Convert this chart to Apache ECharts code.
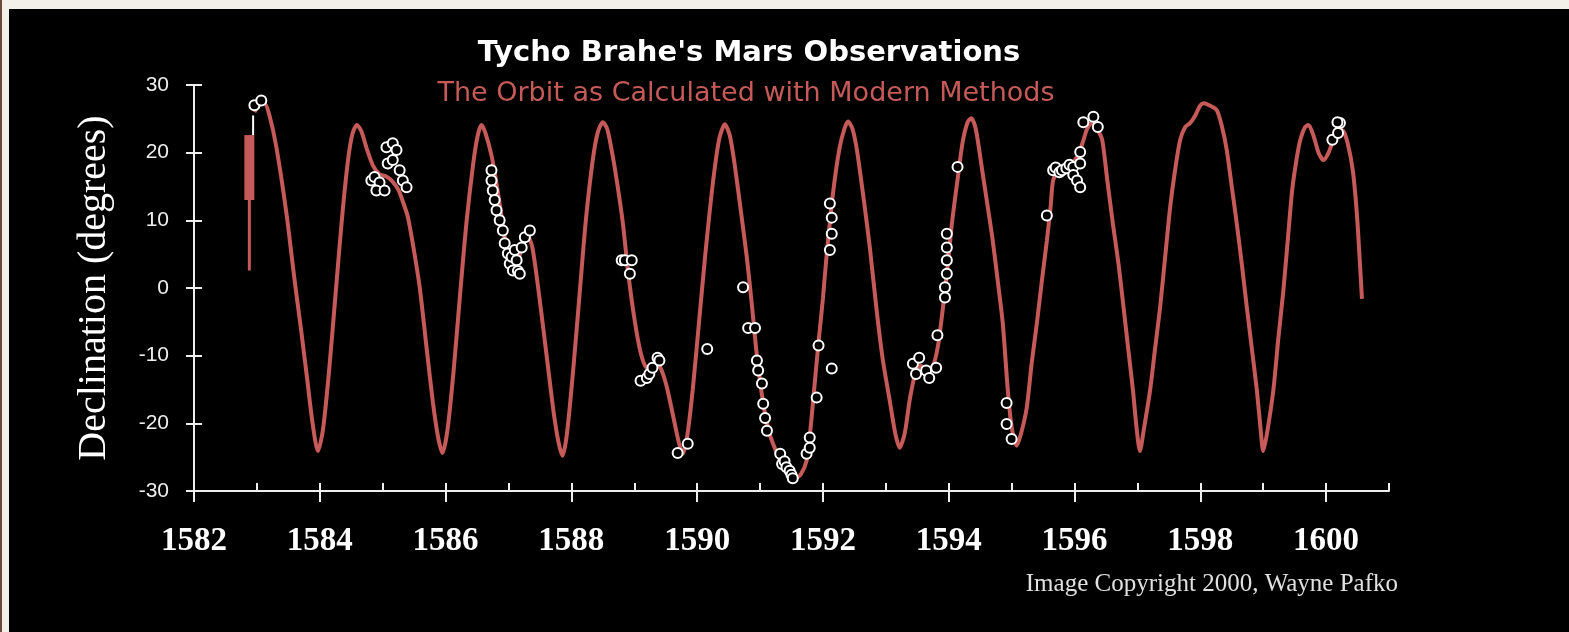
<!DOCTYPE html>
<html>
<head>
<meta charset="utf-8">
<title>Tycho Brahe's Mars Observations</title>
<style>
  html, body { margin: 0; padding: 0; background: #000; }
  #main { width: 1569px; height: 632px; }
</style>
</head>
<body>
<div id="main"></div>
<script src="https://cdn.jsdelivr.net/npm/echarts/dist/echarts.min.js"></script>
<script>
// tick labels
var yearTicks = [1582, 1584, 1586, 1588, 1590, 1592, 1594, 1596, 1598, 1600];
var declTicks = [-30, -20, -10, 0, 10, 20, 30];

// modern orbit: [year, declination in degrees]
var orbit = [
  [1582.96, 26.0], [1583.05, 27.2], [1583.12, 27.3], [1583.2, 25.5], [1583.31, 20.8],
  [1583.47, 11.0], [1583.6, 1.1], [1583.7, -6], [1583.8, -13.5], [1583.88, -19.6], [1583.97, -24.1],
  [1584.05, -21], [1584.15, -12], [1584.25, -1], [1584.35, 10], [1584.45, 19], [1584.52, 22.8],
  [1584.59, 24.1], [1584.66, 23.2], [1584.75, 20.5], [1584.85, 18], [1584.95, 16.8], [1585.05, 16.5],
  [1585.15, 15.8], [1585.25, 14.5], [1585.32, 12.8], [1585.4, 10.5], [1585.48, 6.5], [1585.59, 0],
  [1585.7, -9], [1585.8, -17], [1585.88, -22], [1585.95, -24.4],
  [1586.03, -21], [1586.13, -12], [1586.23, -1], [1586.33, 9.5], [1586.44, 18.4], [1586.51, 22.5],
  [1586.57, 24.1], [1586.63, 23], [1586.73, 19.6], [1586.8, 16], [1586.9, 10], [1587.0, 4.5],
  [1587.1, 3], [1587.2, 5.5], [1587.3, 7.8], [1587.38, 6], [1587.5, -2], [1587.62, -11],
  [1587.72, -18.5], [1587.8, -23], [1587.86, -24.8],
  [1587.93, -21.5], [1588.03, -12], [1588.13, -1], [1588.23, 10], [1588.34, 18.9], [1588.42, 23],
  [1588.5, 24.5], [1588.57, 23.5], [1588.64, 20.4], [1588.72, 16], [1588.82, 9.5], [1588.9, 2.5],
  [1589.0, -4.4], [1589.1, -9.5], [1589.2, -11.8], [1589.3, -11.2], [1589.4, -11.5], [1589.5, -14],
  [1589.6, -18.1], [1589.7, -22.5], [1589.77, -24.5],
  [1589.84, -22], [1589.93, -15], [1590.03, -5], [1590.13, 5], [1590.25, 15.5], [1590.35, 22],
  [1590.44, 24.2], [1590.52, 22.5], [1590.6, 18], [1590.7, 11], [1590.79, 4.5], [1590.87, -2.5],
  [1590.95, -10], [1591.05, -17], [1591.15, -21.5], [1591.25, -24], [1591.35, -26], [1591.45, -27.5],
  [1591.55, -28.2], [1591.65, -27.5], [1591.74, -25.5], [1591.8, -21], [1591.86, -15], [1591.93, -8],
  [1592.0, -1.5], [1592.06, 5], [1592.16, 14], [1592.26, 20.5], [1592.34, 23.5], [1592.4, 24.6],
  [1592.47, 23.5], [1592.54, 20.4], [1592.65, 13], [1592.75, 5.6], [1592.85, -3], [1592.95, -10.5],
  [1593.07, -17.1], [1593.15, -21.5], [1593.22, -23.6],
  [1593.3, -21.5], [1593.38, -16.5], [1593.46, -13], [1593.55, -11.5], [1593.65, -12], [1593.75, -11.5],
  [1593.83, -8.5], [1593.9, -3.5], [1593.98, 3], [1594.05, 9.5], [1594.14, 16], [1594.22, 21.5],
  [1594.3, 24.5], [1594.36, 25.1], [1594.43, 23.5], [1594.54, 16.9], [1594.62, 12], [1594.7, 7],
  [1594.78, 1], [1594.86, -5.3], [1594.94, -15.2], [1595.0, -20.5], [1595.08, -23.3],
  [1595.15, -21.5], [1595.24, -17.7], [1595.32, -11], [1595.4, -5.3], [1595.48, 1], [1595.56, 7],
  [1595.62, 12], [1595.66, 15.9], [1595.75, 17.3], [1595.85, 17.8], [1595.95, 18.3], [1596.05, 19.5],
  [1596.13, 21.5], [1596.2, 23.5], [1596.28, 24.5], [1596.36, 23.5], [1596.44, 21.9], [1596.52, 16],
  [1596.61, 9.5], [1596.7, 3.5], [1596.78, -2.9], [1596.86, -9.5], [1596.93, -15.2], [1596.99, -21],
  [1597.04, -24.1],
  [1597.1, -21], [1597.2, -15.2], [1597.28, -9], [1597.36, -2.9], [1597.44, 4.5], [1597.52, 11.9],
  [1597.6, 17.5], [1597.68, 21.9], [1597.76, 23.8], [1597.84, 24.4], [1597.92, 25.5], [1598.0, 27],
  [1598.06, 27.3], [1598.14, 27], [1598.26, 26.3], [1598.34, 24], [1598.42, 20.4], [1598.5, 15],
  [1598.58, 9.5], [1598.66, 3.5], [1598.74, -2.9], [1598.82, -9], [1598.9, -15.2], [1598.96, -21],
  [1599.0, -24.1],
  [1599.06, -21.5], [1599.16, -15.2], [1599.24, -7.5], [1599.32, -0.4], [1599.39, 7], [1599.46, 14.4],
  [1599.53, 19], [1599.59, 21.9], [1599.66, 23.7], [1599.72, 24.1], [1599.8, 22.5], [1599.88, 20],
  [1599.96, 18.9], [1600.04, 20], [1600.12, 22], [1600.2, 23.2], [1600.26, 23.3], [1600.34, 21.5],
  [1600.43, 17], [1600.5, 9.5], [1600.57, -1.6]
];

// odd marks at the start of the orbit trace
var startStem = [[1582.88, 2.6], [1582.88, 13]];
var startBar = [[1582.88, 13], [1582.88, 22.6]];
var startWhite = [[1582.94, 22.6], [1582.94, 25.5]];

// Tycho's observations: [year, declination in degrees]
var tycho = [
  [1582.96, 27.0], [1583.07, 27.7],
  [1584.82, 15.9], [1584.87, 16.4], [1584.95, 15.6], [1584.9, 14.4], [1585.03, 14.4], [1585.06, 20.8],
  [1585.08, 18.4], [1585.16, 21.4], [1585.16, 18.9], [1585.22, 20.4], [1585.27, 17.4], [1585.32, 15.9],
  [1585.38, 14.9],
  [1586.73, 17.4], [1586.73, 15.9], [1586.75, 14.4], [1586.78, 13.0], [1586.81, 11.5], [1586.86, 10],
  [1586.91, 8.5], [1586.94, 6.6], [1586.99, 5.1], [1587.02, 3.6], [1587.05, 4.6], [1587.07, 2.6],
  [1587.1, 5.6], [1587.13, 4.1], [1587.15, 2.5], [1587.18, 2.1], [1587.21, 6], [1587.26, 7.5],
  [1587.34, 8.5],
  [1588.8, 4.1], [1588.85, 4.1], [1588.93, 2.1], [1588.96, 4.1],
  [1589.1, -13.7], [1589.2, -13.3], [1589.24, -12.7], [1589.29, -11.8], [1589.37, -10.3], [1589.4, -10.7],
  [1589.69, -24.4], [1589.85, -23.0], [1590.16, -9],
  [1590.73, 0.1], [1590.81, -5.9], [1590.92, -5.9], [1590.95, -10.7], [1590.97, -12.2], [1591.03, -14.1],
  [1591.05, -17.1], [1591.08, -19.2], [1591.11, -21.1], [1591.32, -24.5], [1591.35, -26], [1591.39, -25.6],
  [1591.42, -26.5], [1591.47, -27], [1591.5, -27.6], [1591.52, -28.1], [1591.74, -24.5], [1591.79, -22.1],
  [1591.79, -23.6], [1591.9, -16.2], [1591.93, -8.5], [1592.14, -11.9], [1592.11, 12.5], [1592.14, 10.4],
  [1592.14, 8.0], [1592.11, 5.6],
  [1593.43, -11.2], [1593.48, -12.7], [1593.53, -10.3], [1593.64, -12.2], [1593.69, -13.3], [1593.8, -11.8],
  [1593.82, -7.0], [1593.97, 8], [1593.97, 6], [1593.97, 4.1], [1593.97, 2.1], [1593.94, 0.1],
  [1593.94, -1.4], [1594.14, 17.9],
  [1594.92, -17], [1594.92, -20.1], [1595.0, -22.3],
  [1595.56, 10.7], [1595.66, 17.4], [1595.7, 17.8], [1595.76, 17.1], [1595.8, 17.4], [1595.87, 17.7],
  [1595.92, 18.2], [1595.98, 17.9], [1595.98, 16.7], [1596.04, 15.9], [1596.09, 18.4], [1596.09, 20.1],
  [1596.09, 14.9], [1596.14, 24.5], [1596.3, 25.3], [1596.37, 23.8],
  [1600.1, 21.9], [1600.19, 22.9], [1600.22, 24.4], [1600.18, 24.5]
];

var red = '#c55a58';
var chart = echarts.init(document.getElementById('main'));

chart.setOption({
  backgroundColor: '#000',
  animation: false,
  graphic: [
    { type: 'rect', shape: { x: 0, y: 0, width: 1569, height: 9 }, style: { fill: '#f3f0ea' } },
    { type: 'rect', shape: { x: 0, y: 0, width: 9, height: 632 }, style: { fill: '#f3f0ea' } },
    { type: 'rect', shape: { x: 0, y: 0, width: 2, height: 632 }, style: { fill: '#6a4a3a' } },
    {
      type: 'text', x: 749, y: 53,
      style: {
        text: "Tycho Brahe's Mars Observations", fill: '#fff',
        font: 'bold 29px "DejaVu Sans", sans-serif', textAlign: 'center', textVerticalAlign: 'middle'
      }
    },
    {
      type: 'text', x: 746, y: 94,
      style: {
        text: 'The Orbit as Calculated with Modern Methods', fill: red,
        font: '27px "DejaVu Sans", sans-serif', textAlign: 'center', textVerticalAlign: 'middle'
      }
    },
    {
      type: 'text', x: 1398, y: 584,
      style: {
        text: 'Image Copyright 2000, Wayne Pafko', fill: '#e0e0e0',
        font: '25px "Liberation Serif", serif', textAlign: 'right', textVerticalAlign: 'middle'
      }
    }
  ],
  grid: { left: 194, right: 180, top: 85, bottom: 141 },
  xAxis: [
    {
      type: 'value', min: 1582, max: 1601, interval: 2,
      axisLine: { onZero: false, lineStyle: { color: '#eee', width: 2 } },
      axisTick: { length: 11, customValues: yearTicks, lineStyle: { color: '#eee', width: 2 } },
      axisLabel: {
        customValues: yearTicks,
        formatter: function (v) { return v % 2 === 0 ? String(v) : ''; },
        color: '#fff', fontFamily: '"Liberation Serif", serif', fontWeight: 'bold', fontSize: 33, margin: 34
      },
      splitLine: { show: false }
    },
    {
      type: 'value', min: 1582, max: 1601, interval: 1, position: 'bottom',
      axisLine: { show: false, onZero: false },
      axisTick: { inside: true, length: 8, lineStyle: { color: '#eee', width: 2 } },
      axisLabel: { show: false },
      splitLine: { show: false }
    }
  ],
  yAxis: [
    {
      type: 'value', min: -30, max: 30, interval: 10,
      name: 'Declination (degrees)', nameLocation: 'middle', nameGap: 80,
      nameTextStyle: { color: '#fff', fontFamily: '"Liberation Serif", serif', fontSize: 40 },
      axisLine: { onZero: false, lineStyle: { color: '#eee', width: 2 } },
      axisTick: { length: 8, lineStyle: { color: '#eee', width: 2 } },
      axisLabel: {
        customValues: declTicks,
        color: '#eee', fontFamily: '"Liberation Sans", sans-serif', fontSize: 21, margin: 25
      },
      splitLine: { show: false }
    },
    {
      type: 'value', min: -30, max: 30, interval: 10, position: 'left',
      axisLine: { show: false, onZero: false },
      axisTick: { inside: true, length: 8, lineStyle: { color: '#eee', width: 2 } },
      axisLabel: { show: false },
      splitLine: { show: false }
    }
  ],
  series: [
    {
      name: 'Orbit', type: 'line', data: orbit, showSymbol: false, smooth: 0.25,
      lineStyle: { color: red, width: 4 }, z: 2
    },
    {
      name: 'stem', type: 'line', data: startStem, showSymbol: false,
      lineStyle: { color: red, width: 3 }, z: 2
    },
    {
      name: 'bar', type: 'line', data: startBar, showSymbol: false,
      lineStyle: { color: red, width: 10, cap: 'butt' }, z: 2
    },
    {
      name: 'whiteStem', type: 'line', data: startWhite, showSymbol: false,
      lineStyle: { color: '#fff', width: 2 }, z: 3
    },
    {
      name: 'Tycho', type: 'scatter', data: tycho, symbol: 'circle', symbolSize: 10,
      itemStyle: { color: '#000', borderColor: '#fff', borderWidth: 2, opacity: 1 }, z: 4
    }
  ]
});
</script>
</body>
</html>
